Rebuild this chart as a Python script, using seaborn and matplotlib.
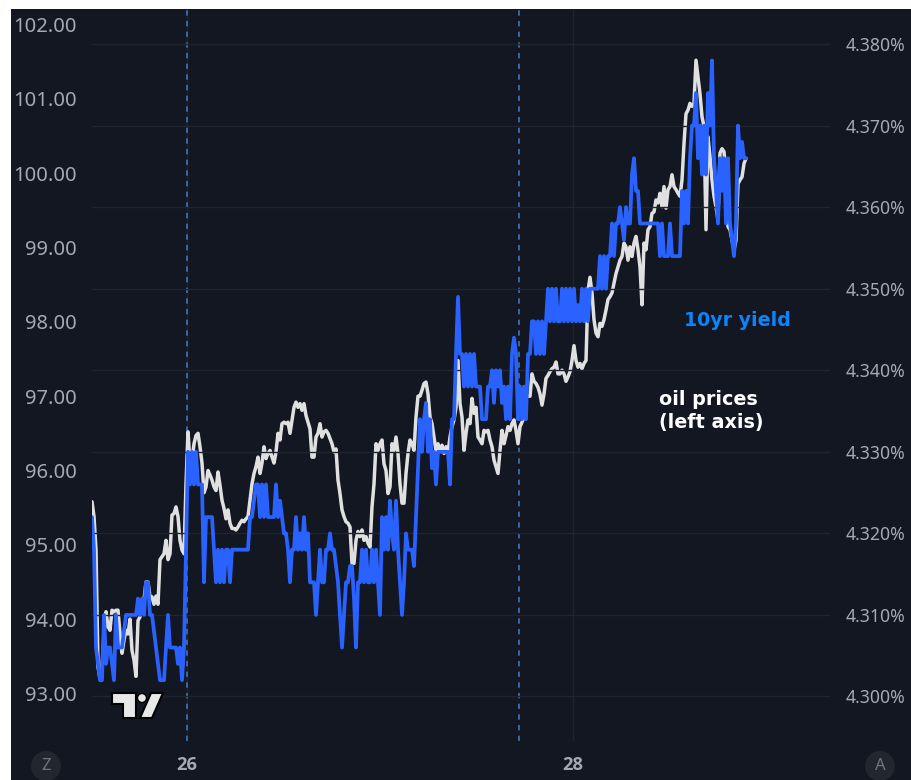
import numpy as np
import matplotlib
matplotlib.use("Agg")
import matplotlib.pyplot as plt
from matplotlib.patches import Circle, Polygon, Rectangle
import seaborn as sns

# Data, one value per bar (about 2 px each in the reference)
oil_prices = [
    95.58, 95.38, 94.93, 93.36, 93.20, 93.36, 93.80, 94.10, 93.90, 93.85,
    94.12, 94.10, 94.12, 94.12, 93.80, 93.54, 93.72, 93.85, 93.80, 94.00,
    93.58, 93.45, 93.23, 93.98, 94.03, 94.17, 94.26, 94.50, 94.50, 94.30,
    94.30, 94.20, 94.31, 94.20, 94.80, 94.84, 94.88, 95.06, 94.80, 94.88,
    95.40, 95.42, 95.51, 95.38, 95.06, 94.93, 94.88, 95.82, 96.52, 96.10,
    96.14, 96.36, 96.47, 96.50, 96.32, 96.10, 95.70, 95.78, 96.00, 95.94,
    95.87, 95.78, 95.73, 95.98, 95.80, 95.60, 95.49, 95.35, 95.47, 95.29,
    95.22, 95.22, 95.20, 95.24, 95.29, 95.33, 95.31, 95.35, 95.38, 95.60,
    95.82, 95.96, 96.05, 96.18, 95.96, 96.10, 96.32, 96.16, 96.23, 96.27,
    96.18, 96.10, 96.25, 96.50, 96.41, 96.63, 96.65, 96.63, 96.65, 96.50,
    96.68, 96.85, 96.92, 96.85, 96.90, 96.81, 96.90, 96.74, 96.65, 96.56,
    96.18, 96.18, 96.45, 96.50, 96.63, 96.45, 96.52, 96.54, 96.50, 96.43,
    96.36, 96.25, 96.29, 95.87, 95.69, 95.47, 95.38, 95.31, 95.29, 95.24,
    94.75, 94.75, 95.06, 95.18, 95.11, 95.20, 95.06, 95.11, 95.02, 94.97,
    95.51, 95.82, 96.36, 96.27, 96.36, 96.41, 96.09, 96.00, 95.69, 95.78,
    96.36, 96.27, 96.45, 96.23, 95.82, 95.56, 95.56, 95.96, 96.23, 96.41,
    96.36, 96.27, 96.72, 97.00, 97.00, 97.08, 97.17, 97.19, 97.03, 96.72,
    96.63, 96.45, 96.27, 96.36, 96.27, 96.34, 96.23, 96.32, 96.23, 96.45,
    96.59, 96.68, 96.85, 97.48, 96.90, 96.72, 96.27, 96.50, 96.68, 96.63,
    96.97, 96.77, 96.85, 96.45, 96.41, 96.36, 96.54, 96.52, 96.54, 96.41,
    96.32, 96.14, 96.05, 95.96, 96.27, 96.54, 96.36, 96.47, 96.59, 96.54,
    96.63, 96.68, 96.54, 96.36, 96.59, 96.65, 96.72, 97.00, 97.00, 97.00,
    97.30, 97.20, 97.17, 97.12, 97.03, 96.88, 97.03, 97.24, 97.28, 97.33,
    97.37, 97.39, 97.46, 97.30, 97.30, 97.35, 97.30, 97.20, 97.26, 97.33,
    97.48, 97.68, 97.48, 97.39, 97.44, 97.37, 97.44, 97.48, 98.42, 98.60,
    98.39, 98.03, 97.85, 97.80, 97.98, 97.94, 98.03, 98.16, 98.30, 98.34,
    98.39, 98.52, 98.65, 98.74, 98.83, 98.88, 99.06, 99.01, 98.83, 99.01,
    98.88, 99.06, 99.15, 98.97, 98.74, 98.23, 99.06, 98.97, 99.24, 99.28,
    99.46, 99.48, 99.64, 99.60, 99.73, 99.55, 99.82, 99.53, 99.78, 99.82,
    99.98, 99.82, 99.78, 99.73, 99.69, 99.91, 100.40, 100.80, 100.85, 100.94,
    100.90, 100.94, 101.52, 101.30, 101.07, 100.76, 100.63, 99.24, 100.49, 100.22,
    99.91, 99.69, 99.55, 99.37, 100.27, 100.33, 100.29, 99.99, 99.28, 99.24,
    99.10, 98.97, 99.10, 99.86, 99.91, 99.95, 100.13, 100.20,
]
yield_10yr = [
    4.322, 4.318, 4.306, 4.304, 4.302, 4.302, 4.310, 4.304, 4.306, 4.306,
    4.304, 4.302, 4.310, 4.306, 4.306, 4.306, 4.308, 4.310, 4.310, 4.310,
    4.310, 4.310, 4.310, 4.312, 4.310, 4.312, 4.310, 4.314, 4.314, 4.310,
    4.310, 4.308, 4.306, 4.304, 4.302, 4.302, 4.302, 4.306, 4.310, 4.306,
    4.306, 4.306, 4.306, 4.304, 4.306, 4.302, 4.306, 4.318, 4.330, 4.326,
    4.330, 4.326, 4.330, 4.326, 4.326, 4.326, 4.314, 4.322, 4.322, 4.322,
    4.322, 4.318, 4.314, 4.318, 4.314, 4.318, 4.314, 4.318, 4.318, 4.314,
    4.318, 4.318, 4.318, 4.318, 4.318, 4.318, 4.318, 4.318, 4.318, 4.322,
    4.322, 4.324, 4.326, 4.326, 4.322, 4.326, 4.322, 4.326, 4.322, 4.322,
    4.322, 4.322, 4.326, 4.322, 4.324, 4.322, 4.320, 4.320, 4.318, 4.314,
    4.318, 4.318, 4.322, 4.318, 4.320, 4.318, 4.322, 4.318, 4.320, 4.314,
    4.314, 4.314, 4.310, 4.314, 4.318, 4.314, 4.314, 4.318, 4.318, 4.320,
    4.318, 4.318, 4.316, 4.314, 4.310, 4.306, 4.310, 4.314, 4.314, 4.316,
    4.316, 4.312, 4.306, 4.314, 4.314, 4.318, 4.314, 4.318, 4.314, 4.314,
    4.318, 4.314, 4.318, 4.314, 4.310, 4.322, 4.318, 4.322, 4.318, 4.324,
    4.320, 4.318, 4.324, 4.318, 4.314, 4.310, 4.314, 4.320, 4.318, 4.318,
    4.318, 4.316, 4.322, 4.328, 4.334, 4.330, 4.334, 4.336, 4.330, 4.334,
    4.328, 4.330, 4.326, 4.330, 4.330, 4.330, 4.330, 4.330, 4.330, 4.326,
    4.334, 4.334, 4.342, 4.349, 4.342, 4.342, 4.338, 4.342, 4.338, 4.342,
    4.338, 4.342, 4.338, 4.338, 4.338, 4.334, 4.334, 4.334, 4.338, 4.338,
    4.340, 4.336, 4.340, 4.338, 4.340, 4.336, 4.338, 4.334, 4.338, 4.334,
    4.342, 4.344, 4.342, 4.334, 4.338, 4.334, 4.338, 4.334, 4.342, 4.342,
    4.346, 4.346, 4.342, 4.346, 4.342, 4.346, 4.342, 4.346, 4.350, 4.346,
    4.350, 4.346, 4.350, 4.346, 4.346, 4.350, 4.346, 4.350, 4.346, 4.350,
    4.346, 4.350, 4.346, 4.348, 4.346, 4.350, 4.346, 4.350, 4.346, 4.350,
    4.350, 4.350, 4.350, 4.350, 4.354, 4.350, 4.354, 4.350, 4.354, 4.354,
    4.358, 4.354, 4.358, 4.358, 4.360, 4.358, 4.356, 4.360, 4.358, 4.358,
    4.364, 4.366, 4.362, 4.362, 4.358, 4.358, 4.358, 4.358, 4.358, 4.358,
    4.358, 4.358, 4.358, 4.358, 4.354, 4.358, 4.354, 4.354, 4.354, 4.358,
    4.354, 4.354, 4.354, 4.354, 4.354, 4.362, 4.358, 4.362, 4.358, 4.366,
    4.370, 4.370, 4.374, 4.366, 4.370, 4.364, 4.370, 4.364, 4.374, 4.370,
    4.378, 4.366, 4.362, 4.358, 4.366, 4.362, 4.366, 4.358, 4.366, 4.358,
    4.356, 4.354, 4.358, 4.370, 4.366, 4.368, 4.366, 4.366,
]
left_ticks = [93, 94, 95, 96, 97, 98, 99, 100, 101, 102]
right_ticks = [4.30, 4.31, 4.32, 4.33, 4.34, 4.35, 4.36, 4.37, 4.38]
day_ticks = [47.5, 240.5]
day_labels = ["26", "28"]
session_breaks = [47.5, 213.5]

BG = "#131722"
GRID = "#20242f"
TICK = "#a6a9b2"
W, H = 911, 780

sns.set_theme(style="dark", rc={"axes.facecolor": BG, "figure.facecolor": "white"})
plt.rcParams["font.family"] = ["Noto Sans", "DejaVu Sans"]

fig = plt.figure(figsize=(W / 100, H / 100), dpi=100)
fig.patches.append(Rectangle((11 / W, 0), (W - 11) / W, (H - 9) / H, transform=fig.transFigure,
                             facecolor=BG, edgecolor="none", zorder=-5))

# axes box in reference pixels: x 92-830, y 9-741
ax = fig.add_axes([92 / W, (H - 741) / H, (830 - 92) / W, (741 - 9) / H])
ax.set_facecolor("none")
ax2 = ax.twinx()
ax2.set_facecolor("none")

sns.lineplot(x=np.arange(len(oil_prices)), y=oil_prices, ax=ax, color="#e0e0e0", linewidth=2.5)
sns.lineplot(x=np.arange(len(yield_10yr)), y=yield_10yr, ax=ax2, color="#2962ff", linewidth=2.7)

ax.set_xlim(0, 369)
ax.set_ylim(92.36, 102.21)
ax2.set_ylim(4.29454, 4.3843)

ax.set_yticks(left_ticks)
ax.set_yticklabels([f"{v:.2f}" for v in left_ticks])
ax2.set_yticks(right_ticks)
ax2.set_yticklabels([f"{v:.3f}%" for v in right_ticks])
ax.set_xticks(day_ticks)
ax.set_xticklabels(day_labels)

ax.tick_params(axis="y", length=0, pad=10.8, labelsize=14.5, labelcolor=TICK)
ax2.tick_params(axis="y", length=0, pad=11.5, labelsize=12.7, labelcolor=TICK)
ax.tick_params(axis="x", length=0, pad=10.5, labelsize=13.2, labelcolor=TICK)
for t in ax.get_xticklabels():
    t.set_family("Open Sans")
    t.set_fontweight("bold")

ax2.grid(True, axis="y", color=GRID, linewidth=1.0)
ax.grid(True, axis="x", color=GRID, linewidth=1.0)
ax.grid(False, axis="y")
ax2.grid(False, axis="x")
for a in (ax, ax2):
    for s in a.spines.values():
        s.set_visible(False)

for b in session_breaks:
    ax.axvline(b, color="#3f74b8", linewidth=1.2, linestyle=(0, (3.2, 3.2)), zorder=1)

fig.text(737 / W, 1 - 320 / H, "10yr yield", color="#0a84ff", fontsize=13.7, fontweight="bold",
         family="DejaVu Sans", ha="center", va="center")
fig.text(659 / W, 1 - 411 / H, "oil prices\n(left axis)", color="white", fontsize=13.8, fontweight="bold",
         family="DejaVu Sans", ha="left", va="center", linespacing=1.3)

# bottom corner badges
for cx, label in [(46, "Z"), (880, "A")]:
    fig.patches.append(Circle((cx, H - 766), 15, transform=None, facecolor="#22262f", edgecolor="none"))
    fig.text(cx / W, 1 - 766 / H, label, color="#70747e", fontsize=12, fontweight="bold", ha="center", va="center")

# TradingView mark
logo = [
    [(112, 693), (136, 693), (136, 718), (123, 718), (123, 704), (112, 704)],
    [(151, 693), (163, 693), (152, 718), (140, 718)],
]
for pts in logo:
    fig.patches.append(Polygon([(x, H - y) for x, y in pts], transform=None, facecolor="#e8e8e8",
                               edgecolor="black", linewidth=1.5))
fig.patches.append(Circle((142, H - 698), 4.5, transform=None, facecolor="#e8e8e8", edgecolor="black", linewidth=1))

fig.savefig("out.png", dpi=100)
